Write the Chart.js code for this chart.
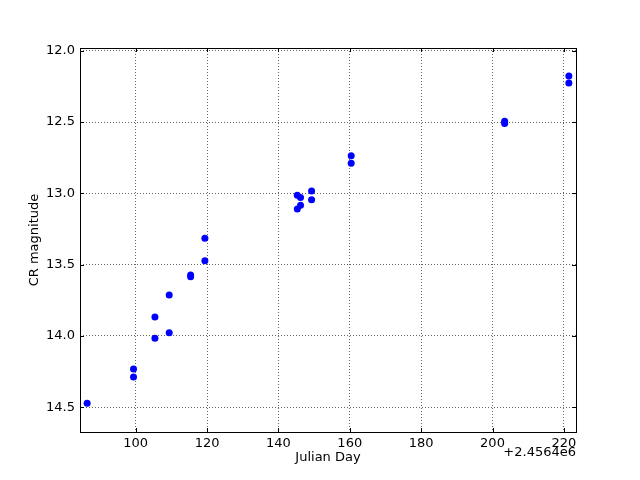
<!DOCTYPE html>
<html>
<head>
<meta charset="utf-8">
<script src="https://cdn.jsdelivr.net/npm/chart.js@4"></script>
<style>
  html, body { margin: 0; padding: 0; background: #fff; }
  #wrap { width: 640px; height: 480px; }
</style>
</head>
<body>
<div id="wrap"><canvas id="lightCurve" width="640" height="480"></canvas></div>
<script>
// Julian day minus 2456400, and CR magnitude
const julianDay = [86.4, 99.4, 99.4, 105.4, 105.4, 109.4, 109.4, 115.4, 115.4, 119.4, 119.4,
                   145.3, 145.3, 146.2, 146.2, 149.3, 149.3, 160.4, 160.4, 203.4, 203.4, 221.4, 221.4];
const crMag = [14.473, 14.232, 14.288, 14.017, 13.867, 13.978, 13.713, 13.573, 13.585, 13.473, 13.316,
               13.014, 13.11, 13.03, 13.084, 12.984, 13.045, 12.736, 12.79, 12.495, 12.51, 12.177, 12.227];
const xTicks = [100, 120, 140, 160, 180, 200, 220];
const yTicks = [12.0, 12.5, 13.0, 13.5, 14.0, 14.5];
const xOffsetLabel = '+2.4564e6';

const font = 'DejaVu Sans';

// matplotlib-style frame, inward ticks and the offset text
const framePlugin = {
    id: 'frame',
    afterDraw(chart) {
        const {ctx, chartArea: a, scales} = chart;
        ctx.save();
        ctx.strokeStyle = '#000';
        ctx.lineWidth = 1;
        ctx.beginPath();
        xTicks.forEach(v => {
            const px = Math.round(scales.x.getPixelForValue(v)) + 0.5;
            ctx.moveTo(px, a.bottom); ctx.lineTo(px, a.bottom - 4);
            ctx.moveTo(px, a.top); ctx.lineTo(px, a.top + 4);
        });
        yTicks.forEach(v => {
            const py = Math.round(scales.y.getPixelForValue(v)) + 0.5;
            ctx.moveTo(a.left, py); ctx.lineTo(a.left + 4, py);
            ctx.moveTo(a.right, py); ctx.lineTo(a.right - 4, py);
        });
        ctx.stroke();
        ctx.strokeRect(Math.round(a.left) + 0.5, Math.round(a.top) + 0.5,
                       Math.round(a.right - a.left), Math.round(a.bottom - a.top));
        ctx.fillStyle = '#000';
        ctx.font = '13px "' + font + '"';
        ctx.textAlign = 'right';
        ctx.textBaseline = 'middle';
        ctx.fillText(xOffsetLabel, a.right, a.bottom + 21);
        ctx.restore();
    }
};

const ctx = document.getElementById('lightCurve').getContext('2d');
new Chart(ctx, {
    type: 'scatter',
    data: {
        datasets: [{
            data: julianDay.map((d, i) => ({x: d, y: crMag[i]})),
            backgroundColor: '#0000ff',
            borderColor: '#0000ff',
            borderWidth: 0,
            pointRadius: 3.5,
            pointHoverRadius: 3.5
        }]
    },
    options: {
        responsive: false,
        animation: false,
        layout: { padding: { top: 48, right: 64, left: 0, bottom: 0 } },
        plugins: { legend: { display: false }, tooltip: { enabled: false } },
        scales: {
            x: {
                type: 'linear',
                min: 84.4,
                max: 223.4,
                afterFit: s => { s.height = 48; },
                afterBuildTicks: s => { s.ticks = xTicks.map(v => ({value: v})); },
                grid: { color: '#666', lineWidth: 1, drawTicks: false },
                border: { display: false, dash: [1, 2] },
                ticks: { color: '#000', padding: 4, maxRotation: 0, font: { family: font, size: 13 } },
                title: { display: true, text: 'Julian Day', color: '#000', padding: { bottom: 15 },
                         font: { family: font, size: 13 } }
            },
            y: {
                type: 'linear',
                reverse: true,
                min: 11.981,
                max: 14.674,
                afterFit: s => { s.width = 80; },
                afterBuildTicks: s => { s.ticks = yTicks.map(v => ({value: v})); },
                grid: { color: '#666', lineWidth: 1, drawTicks: false },
                border: { display: false, dash: [1, 2] },
                ticks: { color: '#000', padding: 5, font: { family: font, size: 13 },
                         callback: v => v.toFixed(1) },
                title: { display: true, text: 'CR magnitude', color: '#000', padding: { top: 27 },
                         font: { family: font, size: 13 } }
            }
        }
    },
    plugins: [framePlugin]
});
</script>
</body>
</html>
